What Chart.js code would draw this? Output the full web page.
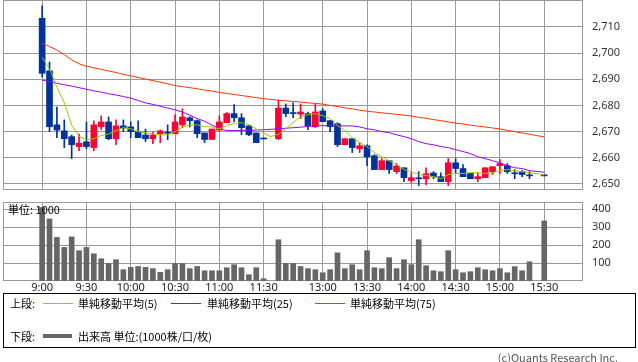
<!DOCTYPE html>
<html>
<head>
<meta charset="utf-8">
<script src="https://cdn.jsdelivr.net/npm/chart.js@4"></script>
<style>
  body { margin: 0; background: #fff; }
  #wrap { position: relative; width: 638px; height: 362px; font-family: "Noto Sans CJK JP", "Noto Sans", sans-serif; font-size: 11px; color: #000; }
  canvas { position: absolute; left: 0; }
  .t { position: absolute; line-height: 12px; white-space: nowrap; }
  .ln { position: absolute; height: 1px; }
</style>
</head>
<body>
<div id="wrap">
  <canvas id="priceChart" width="638" height="195" style="top:0"></canvas>
  <canvas id="volumeChart" width="638" height="105" style="top:195px"></canvas>
  <div class="t" style="left:8px; top:203px;">単位: 1000</div>
  <div style="position:absolute; left:3px; top:293px; width:631px; height:53px; border:1px solid #000;"></div>
  <div class="t" style="left:10px; top:297px;">上段:</div>
  <div class="ln" style="left:43px; top:303px; width:30px; background:#99cc00;"></div>
  <div class="t" style="left:78px; top:297px;">単純移動平均(5)</div>
  <div class="ln" style="left:171px; top:303px; width:30px; background:#9900ff;"></div>
  <div class="t" style="left:207px; top:297px;">単純移動平均(25)</div>
  <div class="ln" style="left:315px; top:303px; width:30px; background:#ff3300;"></div>
  <div class="t" style="left:350px; top:297px;">単純移動平均(75)</div>
  <div class="t" style="left:10px; top:330px;">下段:</div>
  <div class="ln" style="left:43px; top:334px; width:29px; height:4px; background:#666;"></div>
  <div class="t" style="left:78px; top:330px;">出来高 単位:(1000株/口/枚)</div>
  <div class="t" style="right:20px; top:351px; color:#555;">(c)Quants Research Inc.</div>
</div>
<script>
const times = [
    '9:00', '9:05', '9:10', '9:15', '9:20', '9:25', '9:30', '9:35', '9:40', '9:45',
    '9:50', '9:55', '10:00', '10:05', '10:10', '10:15', '10:20', '10:25', '10:30', '10:35',
    '10:40', '10:45', '10:50', '10:55', '11:00', '11:05', '11:10', '11:15', '11:20', '11:25',
    '11:30', '',
    '12:30', '12:35', '12:40', '12:45', '12:50', '12:55', '13:00', '13:05', '13:10', '13:15',
    '13:20', '13:25', '13:30', '13:35', '13:40', '13:45', '13:50', '13:55', '14:00', '14:05',
    '14:10', '14:15', '14:20', '14:25', '14:30', '14:35', '14:40', '14:45', '14:50', '14:55',
    '15:00', '15:05', '15:10', '15:15', '15:20', '15:25', '15:30'
];

const openP = [
    2713.3, 2693.2, 2672.6, 2670.3, 2668.1, 2664.3, 2666.1, 2663.9, 2671.9, 2673.7,
    2667.3, 2672.2, 2671.8, 2670.0, 2668.7, 2667.3, 2669.2, 2669.6, 2669.2, 2672.6,
    2675.3, 2674.2, 2669.5, 2667.0, 2670.6, 2673.4, 2676.9, 2675.3, 2672.2, 2669.5,
    2667.3, null,
    2667.3, 2679.0, 2677.0, 2676.7, 2676.9, 2671.9, 2677.9, 2674.2, 2673.0, 2665.0,
    2667.3, 2663.5, 2664.6, 2660.8, 2655.5, 2658.9, 2654.7, 2656.2, 2651.3, 2652.2,
    2652.0, 2654.2, 2652.8, 2650.9, 2658.1, 2655.9, 2654.1, 2652.0, 2652.4, 2654.7,
    2657.0, 2657.0, 2654.0, 2654.7, 2653.2, null, 2653.2
];
const highP = [
    2718.1, 2696.6, 2679.4, 2674.5, 2668.7, 2669.1, 2673.7, 2674.1, 2676.0, 2675.6,
    2674.5, 2674.5, 2673.7, 2674.1, 2671.0, 2669.8, 2670.6, 2672.6, 2676.4, 2678.7,
    2675.7, 2674.5, 2669.5, 2671.0, 2676.0, 2677.3, 2680.3, 2676.9, 2672.2, 2669.5,
    2667.3, null,
    2682.1, 2680.6, 2681.0, 2680.6, 2677.5, 2680.6, 2678.8, 2674.2, 2673.4, 2667.3,
    2667.3, 2665.8, 2665.0, 2661.2, 2659.7, 2659.0, 2657.8, 2656.2, 2654.3, 2654.7,
    2656.2, 2654.7, 2654.3, 2659.7, 2659.7, 2657.4, 2654.1, 2654.3, 2656.2, 2656.6,
    2659.3, 2657.8, 2655.5, 2655.1, 2654.7, null, 2653.2
];
const lowP = [
    2690.9, 2670.0, 2667.7, 2663.9, 2659.7, 2662.7, 2663.5, 2662.7, 2670.8, 2666.9,
    2665.0, 2670.0, 2667.7, 2667.7, 2666.2, 2665.4, 2665.8, 2666.9, 2669.2, 2671.5,
    2671.8, 2667.7, 2665.8, 2667.0, 2670.2, 2673.4, 2673.8, 2668.8, 2668.5, 2665.8,
    2667.2, null,
    2666.9, 2675.7, 2675.3, 2675.0, 2670.8, 2671.5, 2673.8, 2670.0, 2664.3, 2665.0,
    2662.0, 2662.0, 2657.0, 2655.5, 2655.5, 2654.0, 2654.0, 2650.9, 2650.5, 2649.4,
    2649.7, 2652.0, 2650.9, 2649.4, 2654.3, 2652.8, 2652.0, 2650.9, 2652.4, 2653.6,
    2654.0, 2654.0, 2652.0, 2652.8, 2652.0, null, 2653.1
];
const closeP = [
    2692.3, 2671.9, 2670.6, 2667.3, 2665.0, 2665.6, 2664.3, 2672.6, 2673.7, 2667.3,
    2672.2, 2671.4, 2670.0, 2667.7, 2667.3, 2668.7, 2670.3, 2669.4, 2673.7, 2675.6,
    2674.2, 2669.2, 2667.0, 2671.0, 2673.7, 2676.9, 2675.3, 2671.5, 2668.8, 2665.8,
    2667.2, null,
    2679.0, 2676.9, 2676.9, 2677.5, 2672.3, 2677.5, 2673.8, 2671.9, 2665.0, 2667.3,
    2663.9, 2664.6, 2660.4, 2655.5, 2658.9, 2655.5, 2656.9, 2652.4, 2652.4, 2652.0,
    2653.9, 2652.8, 2650.9, 2658.1, 2655.9, 2652.8, 2652.0, 2652.8, 2656.2, 2656.6,
    2657.8, 2654.7, 2653.9, 2653.6, 2653.1, null, 2653.1
];

const volume = [
    410, 346, 243, 187, 246, 169, 187, 152, 124, 98,
    119, 63, 76, 81, 76, 69, 48, 63, 98, 98,
    69, 81, 57, 57, 57, 74, 91, 74, 35, 74,
    13, null,
    230, 98, 98, 81, 69, 63, 46, 63, 157, 69,
    91, 63, 169, 74, 69, 130, 69, 119, 91, 230,
    85, 57, 52, 169, 63, 46, 52, 74, 63, 57,
    69, 46, 80, 57, 107, null, 335
];

const ma5 = [
    2698.4, 2694.0, 2687.0, 2681.0, 2672.5, 2668.2, 2666.9, 2667.3, 2668.5, 2669.1,
    2670.4, 2671.5, 2671.1, 2670.0, 2669.5, 2669.2, 2668.8, 2668.7, 2670.0, 2671.7,
    2672.5, 2672.6, 2671.9, 2671.8, 2671.0, 2672.3, 2673.2, 2673.4, 2672.7, 2671.1,
    2669.4, 2668.1,
    2669.0, 2671.1, 2673.4, 2675.7, 2676.5, 2676.9, 2676.1, 2675.0, 2672.3, 2670.4,
    2667.7, 2665.8, 2664.3, 2662.0, 2660.4, 2658.9, 2657.4, 2655.5, 2654.7, 2653.6,
    2653.2, 2652.8, 2652.0, 2653.6, 2654.0, 2654.0, 2654.3, 2654.3, 2654.0, 2654.3,
    2655.1, 2655.5, 2655.1, 2654.7, 2654.3, 2654.0, 2653.4
];
const ma25 = [
    2689.7, 2689.1, 2688.5, 2687.9, 2687.4, 2686.8, 2686.2, 2685.6, 2685.1, 2684.5,
    2684.0, 2683.4, 2682.8, 2681.9, 2681.0, 2680.4, 2679.7, 2679.0, 2678.3, 2677.5,
    2676.3, 2675.0, 2674.0, 2672.5, 2671.1, 2670.4, 2670.4, 2670.5, 2670.5, 2670.6,
    2670.7, 2670.9,
    2671.1, 2671.3, 2671.5, 2671.7, 2672.0, 2672.2, 2672.3, 2672.3, 2672.2, 2672.2,
    2672.2, 2671.8, 2671.1, 2670.7, 2670.0, 2669.6, 2668.8, 2668.1, 2667.3, 2666.2,
    2665.4, 2665.0, 2664.3, 2663.9, 2663.1, 2662.4, 2661.6, 2660.4, 2659.7, 2658.9,
    2658.1, 2657.0, 2656.2, 2655.9, 2655.1, 2654.8, 2654.5
];
const ma75 = [
    2703.8, 2702.5, 2701.2, 2699.4, 2697.4, 2695.9, 2695.0, 2694.4, 2693.8, 2693.2,
    2692.6, 2691.9, 2691.3, 2690.7, 2690.1, 2689.5, 2688.9, 2688.3, 2687.6, 2687.2,
    2686.8, 2686.4, 2685.9, 2685.5, 2685.0, 2684.6, 2684.2, 2683.8, 2683.4, 2683.0,
    2682.6, 2682.3,
    2682.0, 2681.8, 2681.5, 2681.3, 2681.0, 2680.8, 2680.5, 2680.0, 2679.6, 2679.1,
    2678.7, 2678.2, 2677.8, 2677.5, 2677.2, 2676.9, 2676.6, 2676.3, 2676.0, 2675.5,
    2675.1, 2674.6, 2674.2, 2673.7, 2673.3, 2672.9, 2672.5, 2672.1, 2671.8, 2671.4,
    2671.0, 2670.5, 2670.0, 2669.5, 2669.0, 2668.5, 2668.0
];

const priceTicks = [2650, 2660, 2670, 2680, 2690, 2700, 2710];
const volumeTicks = [100, 200, 300, 400];
const tickLabels = ['9:00', '9:30', '10:00', '10:30', '11:00', '11:30', '13:00', '13:30', '14:00', '14:30', '15:00', '15:30'];

const UP = '#ff0033';
const DOWN = '#003399';
const GRID = '#999999';

document.addEventListener('DOMContentLoaded', function () {
    const tickIdx = tickLabels.map(t => times.indexOf(t));

    // outline of the plot area
    const framePlugin = {
        id: 'frame',
        beforeDatasetsDraw(chart) {
            const { ctx, chartArea: a } = chart;
            ctx.save();
            ctx.strokeStyle = GRID;
            ctx.lineWidth = 1;
            ctx.strokeRect(Math.round(a.left) + 0.5, Math.round(a.top) + 0.5,
                Math.round(a.right - a.left) - 1, Math.round(a.bottom - a.top) - 1);
            ctx.restore();
        }
    };

    const bodies = [], wicks = [], colors = [], volData = [];
    times.forEach((t, i) => {
        if (openP[i] !== null) {
            bodies.push({ x: i, y: [openP[i], closeP[i]] });
            wicks.push({ x: i, y: [lowP[i], highP[i]] });
            colors.push(closeP[i] >= openP[i] ? UP : DOWN);
        }
        if (volume[i] !== null) volData.push({ x: i, y: volume[i] });
    });

    const maLine = (arr, color) => ({
        type: 'line',
        data: arr.map((v, i) => ({ x: i, y: v })),
        borderColor: color,
        borderWidth: 1,
        pointRadius: 0,
        tension: 0,
        spanGaps: true,
        order: 0
    });

    // no extra room for labels sticking out, the plot box is fixed
    const noPad = s => {
        s.paddingTop = 0;
        s.paddingBottom = 0;
        s.paddingLeft = 0;
        s.paddingRight = 0;
    };

    const xScale = (showLabels, h) => ({
        type: 'linear',
        min: -5.3,
        max: 73.25,
        offset: false,
        grid: { color: GRID, drawTicks: false, offset: false },
        border: { display: false },
        ticks: {
            display: showLabels,
            autoSkip: false,
            maxRotation: 0,
            padding: 0,
            color: '#222',
            font: { family: 'Noto Sans', size: 11 },
            callback: v => tickLabels[tickIdx.indexOf(v)]
        },
        afterBuildTicks: s => { s.ticks = tickIdx.map(v => ({ value: v })); },
        afterFit: s => { s.height = h; noPad(s); }
    });

    const yScale = (min, max, ticks, fmt) => ({
        position: 'right',
        min: min,
        max: max,
        grid: { color: GRID, drawTicks: false },
        border: { display: false },
        ticks: {
            padding: 9,
            color: '#333',
            font: { family: 'Noto Sans', size: 11 },
            callback: fmt
        },
        afterBuildTicks: s => { s.ticks = ticks.map(v => ({ value: v })); },
        afterFit: s => { s.width = 55; noPad(s); }
    });

    const priceCtx = document.getElementById('priceChart').getContext('2d');
    const volumeCtx = document.getElementById('volumeChart').getContext('2d');

    const priceChart = new Chart(priceCtx, {
        type: 'bar',
        data: {
            datasets: [
                maLine(ma5, '#99cc00'),
                maLine(ma25, '#9900ff'),
                maLine(ma75, '#ff3300'),
                {
                    data: bodies,
                    backgroundColor: colors,
                    barThickness: 6,
                    minBarLength: 1,
                    grouped: false,
                    borderWidth: 0,
                    order: 1
                },
                {
                    data: wicks,
                    backgroundColor: colors,
                    barThickness: 1,
                    minBarLength: 1,
                    grouped: false,
                    borderWidth: 0,
                    order: 2
                }
            ]
        },
        options: {
            responsive: false,
            animation: false,
            layout: { padding: { left: 3, top: 0, right: 0, bottom: 0 } },
            plugins: { legend: { display: false }, tooltip: { enabled: false } },
            scales: {
                x: xScale(false, 5),
                y: yScale(2647.7, 2720.3, priceTicks, v => v.toLocaleString('en-US'))
            }
        },
        plugins: [framePlugin]
    });

    const volumeChart = new Chart(volumeCtx, {
        type: 'bar',
        data: {
            datasets: [{
                data: volData,
                backgroundColor: '#666666',
                barThickness: 5,
                grouped: false,
                borderWidth: 0
            }]
        },
        options: {
            responsive: false,
            animation: false,
            layout: { padding: { left: 3, top: 7, right: 0, bottom: 0 } },
            plugins: { legend: { display: false }, tooltip: { enabled: false } },
            scales: {
                x: xScale(true, 19),
                y: yScale(0, 440.5, volumeTicks, v => String(v))
            }
        },
        plugins: [framePlugin]
    });
});
</script>
</body>
</html>
